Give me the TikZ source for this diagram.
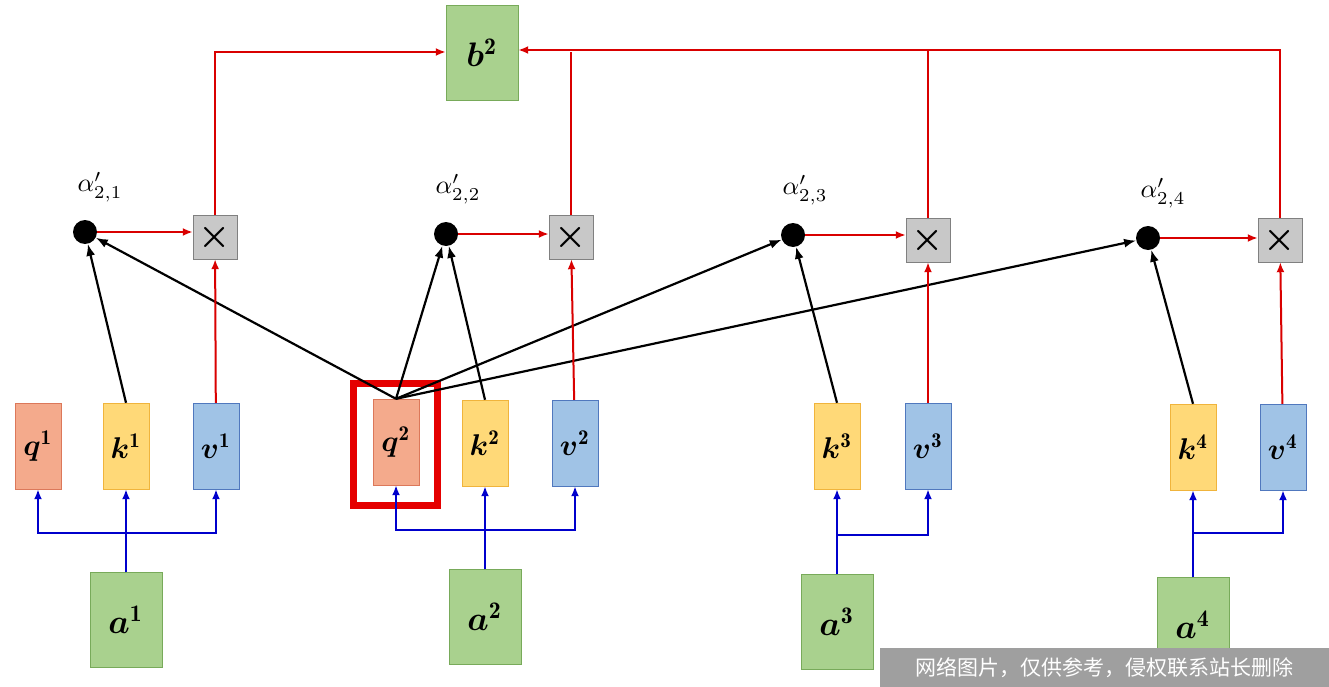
\documentclass[tikz,border=0pt]{standalone}
\usepackage{amsmath,bm}
\usepackage{fontspec}
\newfontfamily\cjk{Noto Sans CJK SC}
\usetikzlibrary{arrows.meta}
\newcommand\myS[2]{\scalebox{#1}{$#2$}}
\begin{document}
\begin{tikzpicture}[x=1pt,y=-1pt,
 box/.style={draw,minimum width=46pt,minimum height=86pt,inner sep=0pt},
 qb/.style={box,fill={rgb,255:red,244;green,170;blue,140},draw={rgb,255:red,220;green,120;blue,90}},
 kb/.style={box,fill={rgb,255:red,255;green,217;blue,120},draw={rgb,255:red,240;green,180;blue,60}},
 vb/.style={box,fill={rgb,255:red,160;green,195;blue,230},draw={rgb,255:red,80;green,120;blue,190}},
 ab/.style={box,minimum width=72pt,minimum height=95pt,fill={rgb,255:red,169;green,209;blue,142},draw={rgb,255:red,120;green,170;blue,90}},
 dot/.style={circle,fill=black,minimum size=24pt,inner sep=0pt},
 mul/.style={draw=gray,fill={rgb,255:red,200;green,200;blue,200},minimum size=44pt,inner sep=0pt},
 red/.style={draw=red!85!black,line width=2pt,-{Latex[length=10pt,width=8pt]}},
 blk/.style={draw=black,line width=2.2pt,-{Latex[length=12pt,width=9pt]}},
 blu/.style={draw=blue!80!black,line width=2.2pt,-{Latex[length=10pt,width=8pt]}},
 bl/.style={draw=blue!80!black,line width=2.2pt}]
\useasboundingbox (0,0) rectangle (1329,687);
\fill[white] (0,0) rectangle (1329,687);
\node[qb] (q1) at (38,446) {\myS{3}{\bm{q}^{\mathbf 1}}};
\node[kb] (k1) at (126,446) {\myS{3}{\bm{k}^{\mathbf 1}}};
\node[vb] (v1) at (216,446) {\myS{3}{\bm{v}^{\mathbf 1}}};
\node[qb] (q2) at (396,442) {\myS{3}{\bm{q}^{\mathbf 2}}};
\node[kb] (k2) at (485,443) {\myS{3}{\bm{k}^{\mathbf 2}}};
\node[vb] (v2) at (575,443) {\myS{3}{\bm{v}^{\mathbf 2}}};
\node[kb] (k3) at (837,446) {\myS{3}{\bm{k}^{\mathbf 3}}};
\node[vb] (v3) at (928,446) {\myS{3}{\bm{v}^{\mathbf 3}}};
\node[kb] (k4) at (1193,447) {\myS{3}{\bm{k}^{\mathbf 4}}};
\node[vb] (v4) at (1283,447) {\myS{3}{\bm{v}^{\mathbf 4}}};
\draw[red!90!black,line width=7pt] (353,383) rectangle (437,505);
\node[ab] (a1) at (126,620) {\myS{3.4}{\bm{a}^{\mathbf 1}}};
\node[ab] (a2) at (485,617) {\myS{3.4}{\bm{a}^{\mathbf 2}}};
\node[ab] (a3) at (837,622) {\myS{3.4}{\bm{a}^{\mathbf 3}}};
\node[ab] (a4) at (1193,625) {\myS{3.4}{\bm{a}^{\mathbf 4}}};
\node[ab] (b2) at (482,53) {\myS{3.4}{\bm{b}^{\mathbf 2}}};
\node[dot] (d1) at (85,232) {};
\node[dot] (d2) at (446,234) {};
\node[dot] (d3) at (793,235) {};
\node[dot] (d4) at (1148,238) {};
\node at (100,187) {\myS{2.6}{\alpha'_{2,1}}};
\node at (458,189) {\myS{2.6}{\alpha'_{2,2}}};
\node at (805,190) {\myS{2.6}{\alpha'_{2,3}}};
\node at (1163,193) {\myS{2.6}{\alpha'_{2,4}}};
\node[mul] (x1) at (215,237) {\myS{3.6}{\bm\times}};
\node[mul] (x2) at (571,237) {\myS{3.6}{\bm\times}};
\node[mul] (x3) at (928,240) {\myS{3.6}{\bm\times}};
\node[mul] (x4) at (1280,240) {\myS{3.6}{\bm\times}};
% blue
\coordinate (h1) at (126,533); \coordinate (h2) at (485,530);
\coordinate (h3) at (837,535); \coordinate (h4) at (1193,533);
\draw[bl] (a1.north) -- (h1);
\draw[blu] (h1) -| (q1.south); \draw[blu] (a1.north) -- (k1.south); \draw[blu] (h1) -| (v1.south);
\draw[blu] (a2.north) -- (k2.south); \draw[blu] (h2) -| (q2.south); \draw[blu] (h2) -| (v2.south);
\draw[blu] (a3.north) -- (k3.south); \draw[blu] (h3) -| (v3.south);
\draw[blu] (a4.north) -- (k4.south); \draw[blu] (h4) -| (v4.south);
% black
\draw[blk] (k1.north) -- (d1); \draw[blk] (q2.north) -- (d1);
\draw[blk] (q2.north) -- (d2); \draw[blk] (k2.north) -- (d2);
\draw[blk] (q2.north) -- (d3); \draw[blk] (k3.north) -- (d3);
\draw[blk] (q2.north) -- (d4); \draw[blk] (k4.north) -- (d4);
% red
\draw[red] (d1) -- (x1.west|-d1); \draw[red] (d2) -- (x2.west|-d2); \draw[red] (d3) -- (x3.west|-d3); \draw[red] (d4) -- (x4.west|-d4);
\draw[red] (v1) -- (x1); \draw[red] (v2) -- (x2); \draw[red] (v3) -- (x3); \draw[red] (v4) -- (x4);
\coordinate (t1) at (215,52); \coordinate (t2) at (571,52);
\coordinate (t3) at (928,50); \coordinate (t4) at (1280,50);
\draw[red] (x1.north) |- (b2.west|-t1);
\draw[red,-] (x2.north) -- (t2);
\draw[red,-] (x3.north) -- (t3);
\draw[red] (x4.north) |- (b2.east|-t4);
\node[fill=gray!75,text=white,minimum width=449pt,minimum height=39pt,inner sep=0pt,font=\cjk\fontsize{21}{21}\selectfont] (wm) at (1104.5,667.5) {网络图片，仅供参考，侵权联系站长删除};
\end{tikzpicture}
\end{document}
